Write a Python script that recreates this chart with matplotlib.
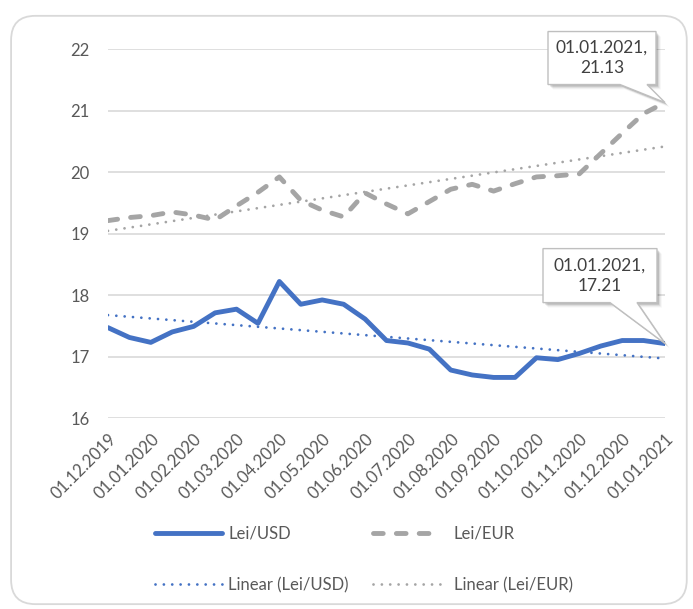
import numpy as np
import matplotlib
matplotlib.use("Agg")
import matplotlib.pyplot as plt
import matplotlib.transforms as mtransforms
from matplotlib.patches import Polygon, FancyBboxPatch

plt.rcParams['font.family'] = ['Lato', 'DejaVu Sans']

# semi-monthly values, 01.12.2019 .. 01.01.2021
lei_usd = [17.47, 17.31, 17.23, 17.40, 17.49, 17.71, 17.77, 17.54, 18.22,
           17.85, 17.92, 17.85, 17.61, 17.26, 17.22, 17.12, 16.78, 16.70,
           16.66, 16.66, 16.98, 16.95, 17.05, 17.17, 17.26, 17.26, 17.21]
lei_eur = [19.21, 19.26, 19.29, 19.35, 19.30, 19.22, 19.45, 19.67, 19.92,
           19.54, 19.38, 19.27, 19.66, 19.48, 19.32, 19.52, 19.72, 19.80,
           19.69, 19.81, 19.92, 19.94, 19.97, 20.30, 20.63, 20.95, 21.13]
month_labels = ['01.12.2019', '01.01.2020', '01.02.2020', '01.03.2020',
                '01.04.2020', '01.05.2020', '01.06.2020', '01.07.2020',
                '01.08.2020', '01.09.2020', '01.10.2020', '01.11.2020',
                '01.12.2020', '01.01.2021']
last_label = '01.01.2021'

BLUE = '#4472C4'
GREY = '#A5A5A5'
TXT = '#595959'

x = np.arange(len(lei_usd))
fit_usd = np.polyval(np.polyfit(x, lei_usd, 1), x)
fit_eur = np.polyval(np.polyfit(x, lei_eur, 1), x)

fig = plt.figure(figsize=(6.93, 6.09), dpi=100)
ax = fig.add_axes([0.1558, 0.3136, 0.8038, 0.6059])

# outer chart frame
frame = FancyBboxPatch((0.016, 0.008), 0.975, 0.966, transform=fig.transFigure,
                       boxstyle='round,pad=0,rounding_size=0.035',
                       fc='none', ec='#D9D9D9', lw=1.3, mutation_aspect=693/609)
fig.patches.append(frame)

l1, = ax.plot(x, lei_usd, color=BLUE, lw=3.5, solid_joinstyle='round',
              solid_capstyle='round', label='Lei/USD', zorder=4)
l3, = ax.plot(x, lei_eur, color=GREY, lw=3.5, ls=(0, (2, 2.7)),
              dash_capstyle='round', dash_joinstyle='round', label='Lei/EUR', zorder=4)
l2, = ax.plot(x, fit_usd, color=BLUE, lw=2, ls=(0, (0.01, 3)),
              dash_capstyle='round', label='Linear (Lei/USD)', zorder=3)
l4, = ax.plot(x, fit_eur, color=GREY, lw=2, ls=(0, (0.01, 3)),
              dash_capstyle='round', label='Linear (Lei/EUR)', zorder=3)

ax.set_xlim(0, len(x) - 1)
ax.set_ylim(16, 22)
ax.set_yticks(range(16, 23))
ax.set_xticks(x[::2])
ax.set_xticklabels(month_labels, rotation=45, ha='right', va='top',
                   rotation_mode='anchor')
ax.tick_params(axis='both', length=0, colors=TXT, labelsize=12)
ax.tick_params(axis='y', pad=13)
ax.tick_params(axis='x', pad=9)
ax.grid(axis='y', color='#D9D9D9', lw=1.2)
ax.set_axisbelow(True)
for s in ax.spines.values():
    s.set_visible(False)


def callout(xv, yv, text, box, base):
    # box / base given in pixels relative to the data point
    trans = mtransforms.Affine2D().scale(1.0) + \
        mtransforms.ScaledTranslation(xv, yv, ax.transData)
    x0, x1, y0, y1 = box
    b0, b1 = base
    verts = [(x0, y0), (x0, y1), (x1, y1), (x1, y0), (b1, y0), (0, 0), (b0, y0)]
    for k, a in enumerate([0.12, 0.08, 0.05, 0.03]):
        sh = Polygon([(vx + 2 + k, vy - 2 - k) for vx, vy in verts], closed=True,
                     fc='#000000', ec='none', alpha=a, transform=trans,
                     clip_on=False, zorder=6)
        ax.add_patch(sh)
    ax.add_patch(Polygon(verts, closed=True, fc='white', ec='#BFBFBF', lw=1,
                         transform=trans, clip_on=False, zorder=7))
    ax.text((x0 + x1) / 2, (y0 + y1) / 2, text, transform=trans, ha='center',
            va='center', fontsize=12.5, color='#404040', zorder=8,
            linespacing=1.35)


callout(x[-1], lei_eur[-1], f'{last_label},\n{lei_eur[-1]:.2f}',
        (-117, -9, 18, 71), (-45, -18))
callout(x[-1], lei_usd[-1], f'{last_label},\n{lei_usd[-1]:.2f}',
        (-122, -8, 41, 95), (-55, -28))

leg_y = 1 - 559.5 / 609
leg1 = fig.legend(handles=[l1, l2], loc='center left',
                  bbox_to_anchor=(155 / 693, leg_y), frameon=False, borderpad=0,
                  borderaxespad=0, fontsize=12, handlelength=4, handletextpad=0.4,
                  labelspacing=2.1, labelcolor=TXT)
fig.legend(handles=[l3, l4], loc='center left',
           bbox_to_anchor=(373 / 693, leg_y), frameon=False, borderpad=0,
           borderaxespad=0, fontsize=12, handlelength=4, handletextpad=0.85,
           labelspacing=2.1, labelcolor=TXT)

fig.savefig('out.png', dpi=100)
